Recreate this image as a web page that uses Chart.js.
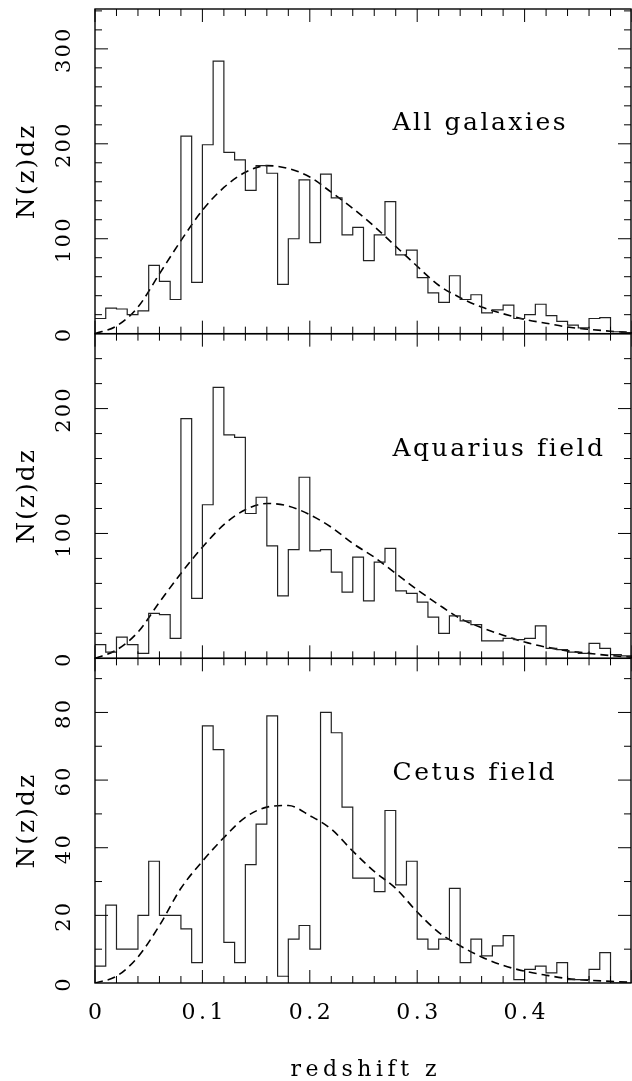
<!DOCTYPE html>
<html>
<head>
<meta charset="utf-8">
<script src="https://cdn.jsdelivr.net/npm/chart.js@4.4.1/dist/chart.umd.min.js"></script>
<style>
  html, body { margin: 0; padding: 0; background: #fff; }
  #wrap { position: relative; width: 632px; height: 1081px; }
</style>
</head>
<body>
<div id="wrap"><canvas id="nz" width="632" height="1081"></canvas></div>
<script>
// left edges of the dz = 0.01 bins, last entry closes the final bin
const binEdges = [0.00, 0.01, 0.02, 0.03, 0.04, 0.05, 0.06, 0.07, 0.08, 0.09,
                  0.10, 0.11, 0.12, 0.13, 0.14, 0.15, 0.16, 0.17, 0.18, 0.19,
                  0.20, 0.21, 0.22, 0.23, 0.24, 0.25, 0.26, 0.27, 0.28, 0.29,
                  0.30, 0.31, 0.32, 0.33, 0.34, 0.35, 0.36, 0.37, 0.38, 0.39,
                  0.40, 0.41, 0.42, 0.43, 0.44, 0.45, 0.46, 0.47, 0.48, 0.49, 0.50];

// histogram counts per bin
const allGalaxies = [16, 27, 26, 20, 24, 72, 55, 36, 208, 54,
                     199, 287, 191, 183, 151, 177, 169, 52, 100, 162,
                     96, 168, 143, 104, 112, 77, 104, 139, 83, 88,
                     59, 43, 33, 61, 36, 41, 22, 25, 30, 16,
                     20, 31, 19, 13, 9, 6, 16, 17, 2, 1];
const aquarius = [11, 5, 17, 11, 4, 36, 35, 16, 192, 48,
                  123, 217, 179, 177, 116, 129, 90, 50, 87, 145,
                  86, 87, 69, 53, 81, 46, 77, 88, 54, 52,
                  45, 33, 20, 34, 30, 27, 14, 14, 16, 15,
                  16, 26, 8, 7, 5, 4, 12, 8, 3, 2];
const cetus = [5, 23, 10, 10, 20, 36, 20, 20, 16, 6,
               76, 69, 12, 6, 35, 47, 79, 2, 13, 17,
               10, 80, 74, 52, 31, 31, 27, 51, 29, 36,
               13, 10, 13, 28, 6, 13, 8, 11, 14, 1,
               4, 5, 3, 6, 1, 1, 4, 9, 0, 0];

const modelZ = [0, 0.02, 0.04, 0.06, 0.08, 0.10, 0.12, 0.14, 0.16, 0.18, 0.20, 0.22, 0.24,
                0.26, 0.28, 0.30, 0.32, 0.34, 0.36, 0.38, 0.40, 0.42, 0.44, 0.46, 0.48, 0.50];
const modelAll = [0, 8, 28, 63, 98, 130, 154, 170, 177, 174, 165, 149, 132,
                  113, 92, 71, 51, 38, 28, 21, 15, 11, 7, 4.6, 2.6, 1.2];
const modelAqr = [0, 6.7, 21, 45, 68, 89, 107, 119, 124, 122, 115, 105, 92,
                  81, 68, 55, 43, 32, 24.5, 18.5, 13, 9, 6, 4, 2.2, 1];
const modelCet = [0, 2, 7.7, 17, 28, 36, 43, 49, 52, 52.5, 49.5, 45.5, 39,
                  33, 28, 21, 15, 11, 7.7, 5.2, 3.5, 2.3, 1.3, 0.8, 0.5, 0.2];

const xTickValues = [0, 0.1, 0.2, 0.3, 0.4];
const xTickLabels = ['0', '0.1', '0.2', '0.3', '0.4'];
const yTicksAll = [0, 100, 200, 300];
const yTicksAqr = [0, 100, 200];
const yTicksCet = [0, 20, 40, 60, 80];
const panelNames = ['All galaxies', 'Aquarius field', 'Cetus field'];

const SERIF = '"DejaVu Serif", "Liberation Serif", serif';

// top to bottom
const panels = [
  { id: 'yAll', max: 342, major: 100, minor: 20, ticks: yTicksAll, hist: allGalaxies, model: modelAll, name: panelNames[0], label: [0.277, 215] },
  { id: 'yAqr', max: 260, major: 100, minor: 20, ticks: yTicksAqr, hist: aquarius, model: modelAqr, name: panelNames[1], label: [0.277, 162] },
  { id: 'yCet', max: 96, major: 20, minor: 10, ticks: yTicksCet, hist: cetus, model: modelCet, name: panelNames[2], label: [0.277, 60] }
];

// draw text with extra letter spacing (the original font is wide)
function spaced(ctx, text, x, y, font, gap, align) {
    ctx.font = font;
    ctx.letterSpacing = gap + 'px';
    const w = ctx.measureText(text).width - (ctx.letterSpacing ? gap : 0);
    ctx.textAlign = 'left';
    ctx.fillText(text, align === 'center' ? x - w / 2 : x, y);
    ctx.letterSpacing = '0px';
}

const framePlugin = {
    id: 'frame',
    afterDraw(chart) {
        const { ctx, chartArea: a, scales } = chart;
        const xs = scales.x;
        ctx.save();
        ctx.strokeStyle = '#000';
        ctx.fillStyle = '#000';
        ctx.textBaseline = 'alphabetic';

        panels.forEach(p => {
            const ys = scales[p.id];
            const top = ys.getPixelForValue(p.max);
            const bottom = ys.getPixelForValue(0);

            ctx.lineWidth = 1.4;
            ctx.strokeRect(a.left, top, a.right - a.left - 1, bottom - top);

            // inward ticks
            ctx.lineWidth = 1;
            ctx.beginPath();
            for (let k = 0; k <= 25; k++) {
                const px = xs.getPixelForValue(k * 0.02);
                const len = k % 5 === 0 ? 13 : 7;
                ctx.moveTo(px, bottom); ctx.lineTo(px, bottom - len);
                ctx.moveTo(px, top); ctx.lineTo(px, top + len);
            }
            for (let v = p.minor; v < p.max; v += p.minor) {
                const py = ys.getPixelForValue(v);
                const len = v % p.major === 0 ? 13 : 7;
                ctx.moveTo(a.left, py); ctx.lineTo(a.left + len, py);
                ctx.moveTo(a.right - 1, py); ctx.lineTo(a.right - 1 - len, py);
            }
            ctx.stroke();

            // rotated y tick labels
            p.ticks.forEach(v => {
                ctx.save();
                ctx.translate(70, ys.getPixelForValue(v) + 2);
                ctx.rotate(-Math.PI / 2);
                spaced(ctx, String(v), 0, 0, '21px ' + SERIF, 2.2, 'center');
                ctx.restore();
            });

            // axis title
            ctx.save();
            ctx.translate(34, (top + bottom) / 2 + 1);
            ctx.rotate(-Math.PI / 2);
            spaced(ctx, 'N(z)dz', 0, 0, '25px ' + SERIF, 2, 'center');
            ctx.restore();

            // panel name
            spaced(ctx, p.name, xs.getPixelForValue(p.label[0]), ys.getPixelForValue(p.label[1]),
                   '25px ' + SERIF, 2.5, 'left');
        });

        // x tick labels and title under the last panel
        const base = scales[panels[panels.length - 1].id].getPixelForValue(0);
        xTickValues.forEach((v, i) => {
            spaced(ctx, xTickLabels[i], xs.getPixelForValue(v), base + 36, '22px ' + SERIF, 3.5, 'center');
        });
        spaced(ctx, 'redshift z', (a.left + a.right) / 2, base + 93, '22px ' + SERIF, 4.5, 'center');
        ctx.restore();
    }
};

const datasets = [];
panels.forEach(p => {
    datasets.push({
        data: binEdges.map((z, i) => ({ x: z, y: p.hist[Math.min(i, p.hist.length - 1)] })),
        yAxisID: p.id,
        stepped: 'before',
        borderColor: '#222',
        borderWidth: 1.2,
        pointRadius: 0,
        fill: false
    });
    datasets.push({
        data: modelZ.map((z, i) => ({ x: z, y: p.model[i] })),
        yAxisID: p.id,
        borderColor: '#000',
        borderWidth: 1.6,
        borderDash: [8, 5],
        cubicInterpolationMode: 'monotone',
        pointRadius: 0,
        fill: false
    });
});

const scales = {
    x: {
        type: 'linear', min: 0, max: 0.5,
        grid: { display: false, drawTicks: false },
        border: { display: false },
        ticks: { display: false },
        afterFit: s => { s.height = 98; }
    }
};
// left boxes are laid out in reverse order, so add the bottom panel first
panels.slice().reverse().forEach(p => {
    scales[p.id] = {
        type: 'linear', position: 'left',
        stack: 'panels', stackWeight: 1,
        min: 0, max: p.max,
        grid: { display: false, drawTicks: false },
        border: { display: false },
        ticks: { display: false },
        afterFit: s => { s.width = 95; }
    };
});

new Chart(document.getElementById('nz'), {
    type: 'line',
    data: { datasets: datasets },
    options: {
        responsive: false,
        animation: false,
        devicePixelRatio: 1,
        layout: { padding: { top: 9, left: 0, right: 0, bottom: 0 } },
        plugins: { legend: { display: false }, tooltip: { enabled: false } },
        scales: scales
    },
    plugins: [framePlugin]
});
</script>
</body>
</html>
